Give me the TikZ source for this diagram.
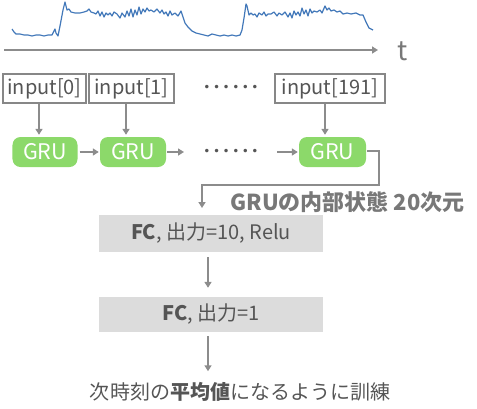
\documentclass[tikz,border=0pt]{standalone}
\usepackage{fontspec}
\setmainfont{Noto Sans CJK JP}
\newfontfamily\dotfont{DejaVu Sans}
\usetikzlibrary{arrows.meta,calc}
\definecolor{arrowgray}{RGB}{140,140,140}
\definecolor{bordergray}{RGB}{135,135,135}
\definecolor{grugreen}{RGB}{140,217,106}
\definecolor{fcgray}{RGB}{220,220,220}
\definecolor{textdark}{RGB}{85,85,85}
\definecolor{labelgray}{RGB}{120,120,120}
\definecolor{wave}{RGB}{66,120,185}
\newcommand\mydot{\makebox[9.6bp]{\dotfont\fontsize{12bp}{12bp}\selectfont •}}
\newcommand\sixdots{\mydot\mydot\mydot\mydot\mydot\mydot}
\tikzset{
  arr/.style={draw=arrowgray, line width=1.5bp, -{Triangle[width=7bp,length=6bp]}},
  inbox/.style={draw=bordergray, line width=1.5bp, minimum height=29bp, inner sep=0pt,
    text=textdark, font=\fontsize{20bp}{22bp}\selectfont},
  grubox/.style={fill=grugreen, rounded corners=8bp, minimum height=30bp, inner sep=0pt,
    text=white, font=\fontsize{21.5bp}{23bp}\selectfont},
  fcbox/.style={fill=fcgray, minimum width=224bp, inner sep=0pt,
    text=textdark, font=\fontsize{20bp}{22bp}\selectfont},
  dotrow/.style={inner sep=0pt, text=textdark}
}
\begin{document}
\begin{tikzpicture}[x=1bp,y=-1bp]
\useasboundingbox (0,0) rectangle (477,408);
% waveform
\draw[wave, line width=1.2bp, line join=round] plot coordinates {
(12,29) (14,32) (16,34) (20,34) (24,35) (28,35) (32,36) (36,35) (40,35) (44,36) (48,35) (52,35) (54,31) (55,29) (56,33) (58,36) (60,26) (63,10) (65,2) (66,6) (67,10) (69,9) (71,12) (75,13) (80,13) (84,12) (87,11) (89,9) (91,12) (94,13) (96,14) (98,11) (100,16) (102,12) (104,17) (106,13) (108,15) (110,13) (112,16) (114,12) (117,14) (120,18) (122,13) (125,17) (127,11) (129,16) (131,9) (133,17) (135,10) (137,15) (139,7) (141,14) (143,9) (145,12) (147,8) (149,11) (151,10) (154,12) (157,9) (160,13) (162,10) (164,14) (166,12) (168,16) (170,11) (172,15) (175,13) (178,16) (181,11) (183,17) (185,23) (188,27) (192,31) (196,33) (200,34) (204,35) (208,36) (212,34) (216,35) (220,36) (224,35) (228,36) (232,35) (236,36) (240,35) (242,30) (244,18) (246,4) (247,6) (249,15) (251,13) (253,15) (255,14) (257,17) (259,13) (262,15) (264,12) (266,16) (268,14) (271,14) (274,12) (277,16) (279,13) (282,15) (285,12) (288,17) (290,13) (292,18) (294,11) (296,15) (298,12) (300,16) (302,8) (304,14) (306,10) (308,16) (310,9) (312,13) (314,11) (317,12) (320,10) (322,13) (325,6) (327,10) (329,8) (331,11) (334,10) (337,12) (340,11) (343,14) (347,13) (351,14) (356,13) (360,15) (363,15) (366,22) (369,28) (373,30)};
% time axis
\coordinate (ax0) at (4,50);
\coordinate (ax1) at (378,50);
\draw[arr] (ax0) -- (ax1);
\node[text=labelgray, font=\fontsize{27bp}{28bp}\selectfont, inner sep=0pt] (t) at (403,51) {t};
% inputs
\node[inbox, minimum width=83bp] (in0) at (44.5,88.5) {input[0]};
\node[inbox, minimum width=85bp] (in1) at (131.5,88.5) {input[1]};
\node[dotrow] (d1) at (231,88) {\sixdots};
\node[inbox, minimum width=110bp] (in2) at (330,88.5) {input[191]};
% GRUs
\node[grubox, minimum width=65bp] (g0) at (45,152) {GRU};
\node[grubox, minimum width=66bp] (g1) at (133,152) {GRU};
\node[dotrow] (d2) at (231,152) {\sixdots};
\node[grubox, minimum width=67bp] (g2) at (332.5,152) {GRU};
% input -> GRU
\draw[arr, shorten >=2bp] ([xshift=-5.5bp]in0.south) -- ([xshift=-5.5bp]in0.south |- g0.north);
\draw[arr, shorten >=2bp] ([xshift=-5.5bp]in1.south) -- ([xshift=-5.5bp]in1.south |- g1.north);
\draw[arr, shorten >=2bp] ([xshift=-5bp]in2.south) -- ([xshift=-5bp]in2.south |- g2.north);
% GRU chain
\draw[arr, shorten <=2bp, shorten >=1bp] (g0.east) -- (g1.west);
\coordinate (c1) at (184,152);
\draw[arr, shorten <=1bp] (g1.east) -- (c1);
\coordinate (c2) at (277,152);
\draw[arr, shorten >=1bp] (c2) -- (g2.west);
% hidden state out
\coordinate (h1) at (379,151);
\coordinate (h2) at (379,185);
\coordinate (h3) at (202,185);
\coordinate (h4) at (202,208);
\draw[arr, line join=miter] ([xshift=1bp]g2.east |- h1) -- (h1) -- (h2) -- (h3) -- (h4);
\node[text=labelgray, font=\fontsize{22bp}{24bp}\selectfont\bfseries, inner sep=0pt] (lab) at (347.5,202) {GRUの内部状態 20次元};
% FC layers
\node[fcbox, minimum height=37bp] (fc1) at (211,233.5) {{\bfseries FC}, 出力=10, Relu};
\node[fcbox, minimum height=35bp] (fc2) at (211,314.5) {{\bfseries FC}, 出力=1};
\draw[arr] ([xshift=-3bp,yshift=-5bp]fc1.south) -- ([xshift=-3bp,yshift=9bp]fc2.north);
\node[text=textdark, font=\fontsize{20bp}{22bp}\selectfont, inner sep=0pt] (out) at (240,392) {次時刻の{\bfseries 平均値}になるように訓練};
\draw[arr] ([xshift=-3bp,yshift=-4bp]fc2.south) -- ([xshift=-3bp,yshift=11bp]fc2.south |- out.north);
\end{tikzpicture}
\end{document}
